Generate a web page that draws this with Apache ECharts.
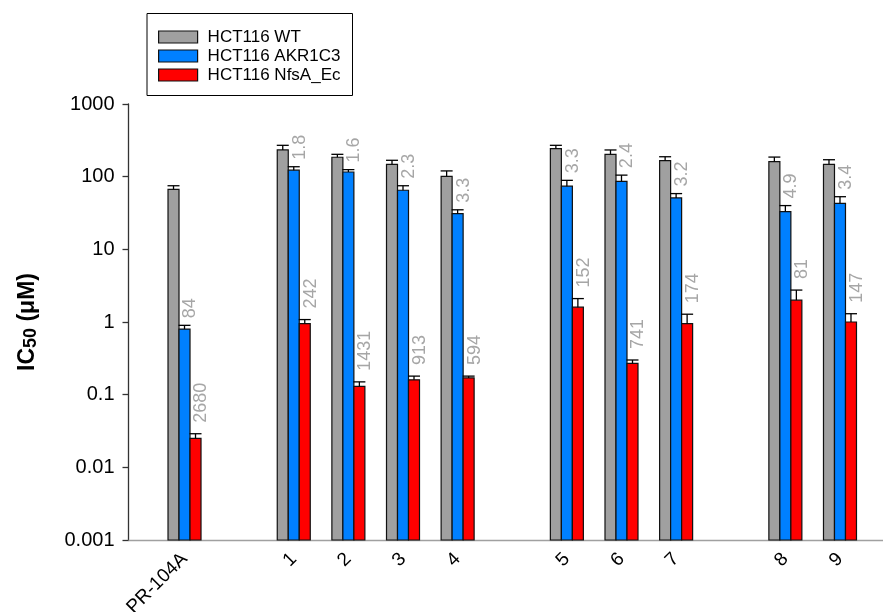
<!DOCTYPE html>
<html>
<head>
<meta charset="utf-8">
<script src="https://cdn.jsdelivr.net/npm/echarts@6/dist/echarts.min.js"></script>
<style>
  html, body { margin: 0; padding: 0; background: #fff; }
  #chart { width: 883px; height: 612px; }
</style>
</head>
<body>
<div id="chart"></div>
<script>
// category slots, blanks are the gaps between compound groups
const categories = ['PR-104A', '', '1', '2', '3', '4', '', '5', '6', '7', '', '8', '9']
const compounds = ['PR-104A', '1', '2', '3', '4', '5', '6', '7', '8', '9']

// IC50 (uM) and upper error
const wt = [67, 233, 185, 148, 101, 243, 203, 166, 161, 148]
const wtErr = [8, 37, 18, 20, 19, 27, 30, 22, 25, 23]
const akr = [0.80, 123, 116, 65, 31, 74, 86, 51, 33, 43]
const akrErr = [0.1, 14, 9, 10, 4, 15, 19, 7.5, 7, 10]
const nfsa = [0.025, 0.95, 0.13, 0.16, 0.17, 1.6, 0.27, 0.95, 2.0, 1.0]
const nfsaErr = [0.004, 0.13, 0.02, 0.02, 0.01, 0.5, 0.03, 0.33, 0.75, 0.3]

// fold ratio labels written above the bars
const akrLabels = ['84', '1.8', '1.6', '2.3', '3.3', '3.3', '2.4', '3.2', '4.9', '3.4']
const nfsaLabels = ['2680', '242', '1431', '913', '594', '152', '741', '174', '81', '147']

const yTickLabels = ['0.001', '0.01', '0.1', '1', '10', '100', '1000']
const seriesNames = ['HCT116 WT', 'HCT116 AKR1C3', 'HCT116 NfsA_Ec']

const Y_MIN = 0.001
const BAR_W = 11
const CAP_W = 12
const FONT = "'Liberation Sans', Arial, sans-serif"

const toData = (vals, errs) => vals.map((v, j) => [categories.indexOf(compounds[j]), v, errs[j]])

const makeRender = (k, labels, gap) => (params, api) => {
  const i = api.value(0)
  const v = api.value(1)
  const e = api.value(2)
  const top = api.coord([i, v])
  const base = api.coord([i, Y_MIN])
  const cap = api.coord([i, v + e])
  const cx = top[0] + k * BAR_W
  const lineStyle = { stroke: '#000', lineWidth: 1.3 }
  const children = [
    {
      type: 'rect',
      shape: { x: cx - BAR_W / 2, y: top[1], width: BAR_W, height: base[1] - top[1] },
      style: api.style()
    },
    { type: 'line', shape: { x1: cx, y1: top[1], x2: cx, y2: cap[1] }, style: lineStyle },
    { type: 'line', shape: { x1: cx - CAP_W / 2, y1: cap[1], x2: cx + CAP_W / 2, y2: cap[1] }, style: lineStyle }
  ]
  if (labels) {
    children.push({
      type: 'text',
      x: cx + 6,
      y: cap[1] - gap,
      rotation: Math.PI / 2,
      style: {
        text: labels[params.dataIndex],
        fill: '#a6a6a6',
        font: '18px ' + FONT,
        align: 'left',
        verticalAlign: 'middle'
      }
    })
  }
  return { type: 'group', children }
}

const chart = echarts.init(document.getElementById('chart'))

const colors = ['#a0a0a0', '#0080ff', '#ff0000']
const seriesData = [toData(wt, wtErr), toData(akr, akrErr), toData(nfsa, nfsaErr)]
const seriesLabels = [null, akrLabels, nfsaLabels]
const labelGaps = [0, 7, 11]

const option = {
  animation: false,
  backgroundColor: '#fff',
  legend: {
    orient: 'vertical',
    left: 147,
    top: 13.5,
    padding: [15, 12, 12, 11],
    itemWidth: 39,
    itemHeight: 12,
    itemGap: 2,
    icon: 'rect',
    borderColor: '#000',
    borderWidth: 1,
    itemStyle: { borderColor: '#111', borderWidth: 1.2 },
    textStyle: { fontFamily: FONT, fontSize: 17, color: '#000', lineHeight: 17, padding: [0, 0, 0, 5] },
    data: seriesNames
  },
  grid: [
    { left: 157.2, right: 15.7, top: 104, bottom: 72, outerBoundsMode: 'none' },
    { left: 128.5, right: 0, top: 104, bottom: 72, outerBoundsMode: 'none' }
  ],
  xAxis: [
    {
      type: 'category',
      gridIndex: 0,
      data: categories,
      axisLine: { show: false },
      axisTick: { show: false },
      axisLabel: {
        interval: 0,
        rotate: 45,
        margin: 16,
        fontFamily: FONT,
        fontSize: 19,
        color: '#000'
      }
    },
    {
      // baseline running from the y axis to the right edge
      type: 'value',
      gridIndex: 1,
      min: 0,
      max: 1,
      axisLine: { show: true, lineStyle: { color: '#a0a0a0', width: 1.3 } },
      axisTick: { show: false },
      axisLabel: { show: false },
      splitLine: { show: false }
    }
  ],
  yAxis: [
    {
      type: 'log',
      gridIndex: 0,
      logBase: 10,
      min: 0.001,
      max: 1000,
      offset: 28.7,
      name: '{b|IC}{s|50}{b| (μM)}',
      nameLocation: 'middle',
      nameGap: 88,
      nameTextStyle: {
        rich: {
          b: { fontFamily: FONT, fontSize: 23, fontWeight: 'bold', color: '#000' },
          s: { fontFamily: FONT, fontSize: 18, fontWeight: 'bold', color: '#000', padding: [8, 0, 0, 0] }
        }
      },
      axisLine: { show: true, lineStyle: { color: '#333', width: 1.3 } },
      axisTick: { show: true, length: 6, lineStyle: { color: '#333', width: 1.3 } },
      axisLabel: {
        margin: 14,
        fontFamily: FONT,
        fontSize: 20,
        color: '#000',
        formatter: (val) => yTickLabels[Math.round(Math.log10(val)) + 3]
      },
      splitLine: { show: false }
    },
    { type: 'value', gridIndex: 1, show: false, min: 0, max: 1 }
  ],
  series: seriesNames.map((name, k) => ({
    name,
    type: 'custom',
    xAxisIndex: 0,
    yAxisIndex: 0,
    encode: { x: 0, y: 1 },
    itemStyle: { color: colors[k], borderColor: '#111', borderWidth: 1.2 },
    renderItem: makeRender(k - 1, seriesLabels[k], labelGaps[k]),
    data: seriesData[k]
  }))
}

chart.setOption(option)

window.addEventListener('resize', () => {
  chart?.resize()
})
</script>
</body>
</html>
